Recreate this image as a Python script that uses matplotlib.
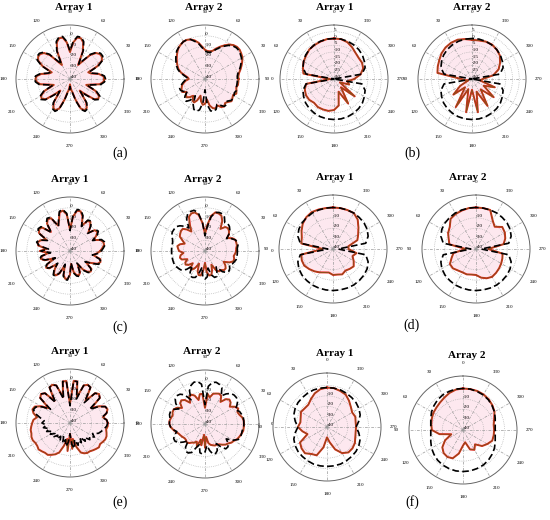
import numpy as np
import matplotlib
matplotlib.use('Agg')
import matplotlib.pyplot as plt

plt.rcParams['font.family'] = ['Liberation Serif', 'DejaVu Serif']

# sample angles (deg)
deg5 = np.arange(0, 360, 5)
deg10 = np.arange(0, 360, 10)

# (a) phi-plane, gain in dB
a1_meas = [-8, -9, -13, -20, -22, -12, -6, -4, -4, -6, -11, -20, -25, -12, -4, -1, -1, -6, -15, -6,
           -1, -1, -4, -12, -25, -20, -11, -6, -4, -4, -6, -12, -22, -20, -13, -9,
           -8, -9, -12, -20, -24, -14, -9, -8, -11, -20, -26, -14, -9, -8, -11, -20, -28, -30, -35, -30,
           -28, -20, -11, -8, -9, -14, -26, -20, -11, -8, -9, -14, -24, -20, -12, -9]
a1_sim = [-7, -8, -12, -19, -21, -11, -5, -3, -3, -5, -10, -19, -24, -11, -3, 0, 0, -5, -14, -5,
          0, 0, -3, -11, -24, -19, -10, -5, -3, -3, -5, -11, -21, -19, -12, -8,
          -7, -8, -11, -19, -23, -13, -8, -7, -10, -19, -25, -13, -8, -7, -10, -19, -27, -29, -33, -29,
          -27, -19, -10, -7, -8, -13, -25, -19, -10, -7, -8, -13, -23, -19, -11, -8]
a2_meas = [-9, -9, -8, -6, -4, -2, 0, 1, 2, 2, 1, -1, -4, -7, -10, -13, -14, -14, -13, -10,
           -6, -3, -1, 0, 0, -1, -2, -4, -6, -8, -10, -12, -14, -17, -21, -24,
           -25, -22, -20, -18, -17, -16, -16, -19, -17, -16, -18, -21, -17, -16, -19, -24, -19, -16, -17, -21,
           -15, -12, -11, -13, -10, -9, -11, -10, -8, -9, -10, -8, -9, -10, -9, -9]
a2_sim = [-10, -10, -9, -7, -5, -3, -1, 0, 1, 1, 0, -2, -5, -8, -11, -14, -15, -15, -14, -11,
          -7, -4, -1, 0, 0, -1, -2, -3, -5, -7, -9, -11, -13, -16, -20, -23,
          -24, -21, -19, -17, -15, -15, -17, -20, -16, -13, -13, -16, -22, -14, -10, -9, -11, -18, -30, -16,
          -10, -9, -10, -14, -12, -9, -9, -11, -9, -8, -9, -10, -9, -10, -10, -10]

# (b) theta-plane, gain in dB
b1_meas = [0, 0, -0.5, -1, -1.5, -3, -4, -5.5, -7, -27, -9, -7, -6, -6, -7, -6, -6, -6,
           -7, -10, -20, -9, -22, -10, -25, -18, -20, -15, -10, -7, -6, -6, -5, -3, -1, 0]
b1_sim = [0, 0, -0.3, -0.8, -1.5, -2.5, -4, -5.5, -9, -30, -9, -5.5, -4, -2.5, -1.5, -0.8, -0.3, 0,
          0, 0, -0.3, -0.8, -1.5, -2.5, -4, -5.5, -9, -30, -9, -5.5, -4, -2.5, -1.5, -0.8, -0.3, 0]
b2_meas = [-1, 0, 1, 1, 0.5, -0.5, -2, -3, -4, -22, -25, -27, -20, -12, -22, -6, -22, -5,
           -22, -5, -20, -7, -20, -9, -20, -12, -24, -22, -14, -9, -6, -3, -1.5, -0.5, -0.5, -1]
b2_sim = [0, 0, -0.3, -0.8, -1.5, -2.5, -4, -5.5, -9, -30, -9, -5.5, -4, -2.5, -1.5, -0.8, -0.3, 0,
          0, 0, -0.3, -0.8, -1.5, -2.5, -4, -5.5, -9, -30, -9, -5.5, -4, -2.5, -1.5, -0.8, -0.3, 0]

# (c)
c1_meas = [-12, -10, -8, -8, -10, -16, -12, -9, -10, -16, -11, -7, -8, -14, -6, -2, -2, -8, -20, -6,
           -2, -3, -10, -14, -5, -4, -7, -15, -6, -5, -7, -16, -11, -9, -10, -18,
           -12, -20, -14, -12, -15, -24, -16, -13, -15, -23, -18, -14, -14, -17, -26, -17, -14, -14, -18, -28,
           -20, -17, -16, -18, -26, -19, -15, -13, -14, -22, -18, -12, -10, -11, -18, -15]
c1_sim = [-11, -9, -7, -7, -9, -17, -11, -8, -9, -17, -10, -6, -7, -15, -5, -1, -1, -7, -21, -5,
          -1, -2, -9, -15, -4, -3, -6, -16, -5, -4, -6, -17, -10, -8, -11, -20,
          -13, -22, -13, -11, -16, -25, -15, -12, -16, -24, -17, -13, -13, -18, -27, -16, -13, -13, -19, -29,
          -19, -16, -15, -19, -27, -18, -14, -12, -15, -23, -17, -11, -9, -12, -19, -14]
c2_meas = [-11, -11, -10, -10, -10, -12, -16, -13, -11, -10, -11, -15, -8, -4, -3, -3, -7, -16, -24, -14,
           -6, -3, -3, -5, -12, -18, -14, -11, -11, -12, -13, -17, -20, -16, -14, -15,
           -16, -20, -17, -16, -17, -22, -19, -18, -20, -24, -19, -19, -22, -27, -20, -17, -17, -22, -29, -20,
           -17, -17, -21, -26, -19, -17, -17, -15, -15, -17, -20, -15, -12, -12, -13, -12]
c2_sim = [-10, -10, -9, -9, -10, -13, -17, -13, -10, -8, -7, -8, -4, -2, -2, -3, -8, -18, -26, -14,
          -4, -1, -1, -2, -6, -14, -10, -7, -5, -5, -5, -6, -8, -9, -9, -9,
          -9, -9, -9, -9, -9, -9, -10, -11, -12, -16, -22, -16, -13, -13, -14, -19, -25, -16, -14, -16,
          -24, -17, -14, -14, -18, -22, -15, -12, -11, -12, -14, -12, -11, -10, -10, -10]

# (d)
d1_meas = [0, 0, 0.5, 1, 0, -2, -5, -8, -9, -30, -9, -8, -8, -10, -12, -14, -16, -17,
           -15, -15, -14, -16, -15, -14, -17, -20, -17, -25, -25, -15, -12, -8, -3, 0, 0, 0]
d1_sim = [0, 0, 0, 0, -0.5, -1, -2, -4, -8, -35, -8, -4, -2, -1, -0.5, 0, 0, 0,
          0, 0, 0, 0, -0.5, -1, -2, -4, -8, -35, -8, -4, -2, -1, -0.5, 0, 0, 0]
d2_meas = [0, 0, -0.5, -1, -2, -7, -9, -12, -14, -30, -18, -15, -11, -11, -13, -14, -14, -15,
           -15, -12, -10, -9, -10, -11, -12, -13, -14, -28, -13, -10, -8, -7, -12, -8, 0, 0]
d2_sim = [0, 0, 0, 0, -0.5, -1, -2, -4, -8, -35, -8, -4, -2, -1, -0.5, 0, 0, 0,
          0, 0, 0, 0, -0.5, -1, -2, -4, -8, -35, -8, -4, -2, -1, -0.5, 0, 0, 0]

# (e)
e1_meas = [-5, -6, -9, -5, -3, -4, -9, -16, -4, -2, -4, -15, -2, -1, -3, -15, -1, -1, -22, -1,
           -1, -15, -3, -1, -2, -15, -4, -2, -4, -16, -9, -4, -3, -5, -9, -6,
           -5, -4, -3, -3, -2, -2, -3, -3, -2, -3, -4, -4, -6, -8, -11, -18, -25, -14, -30, -16,
           -25, -17, -11, -9, -8, -8, -7, -6, -5, -6, -5, -4, -4, -5, -6, -5]
e1_sim = [-5, -6, -10, -5, -3, -4, -10, -18, -4, -2, -4, -17, -2, -1, -3, -17, -1, -1, -24, -1,
          -1, -17, -3, -1, -2, -17, -4, -2, -4, -18, -10, -5, -4, -7, -12, -16,
          -14, -18, -15, -20, -17, -22, -19, -23, -20, -24, -21, -25, -22, -26, -20, -24, -18, -22, -30, -20,
          -16, -24, -18, -22, -19, -24, -18, -21, -16, -18, -14, -17, -12, -10, -8, -6]
e2_meas = [-4, -4, -5, -7, -8, -6, -8, -12, -9, -8, -10, -15, -10, -9, -10, -11, -15, -12, -25, -12,
           -12, -17, -12, -10, -11, -16, -11, -9, -10, -14, -10, -8, -8, -9, -8, -7,
           -7, -8, -10, -12, -14, -15, -16, -17, -17, -16, -17, -19, -20, -22, -18, -25, -20, -30, -18, -28,
           -22, -20, -19, -18, -18, -17, -15, -13, -12, -10, -9, -7, -6, -5, -4, -4]
e2_sim = [-4, -4, -4, -5, -6, -9, -6, -3, -2, -2, -3, -6, -10, -3, -1, 0, -1, -5, -22, -3,
          0, 0, -2, -6, -14, -7, -4, -3, -4, -7, -12, -8, -6, -6, -7, -7,
          -7, -8, -10, -13, -10, -8, -8, -10, -14, -18, -12, -9, -9, -11, -17, -20, -13, -12, -14, -20,
          -15, -11, -11, -13, -19, -14, -10, -10, -12, -16, -10, -6, -5, -5, -5, -4]

# (f)
f1_meas = [-2, -3, -5.5, -9, -12, -12, -11, -13, -14, -12, -16, -20, -10, -8, -7, -10, -11, -20,
           -30, -25, -17, -11, -8, -8, -9, -11, -12, -12, -12, -11, -12, -10, -7, -4, -3, -2]
f1_sim = [-2, -2, -2, -2.5, -3, -3.5, -4.5, -6, -9, -12, -9, -6, -4.5, -3.5, -3, -2.5, -2, -2,
          -2, -2, -2, -2.5, -3, -3.5, -4.5, -6, -9, -12, -9, -6, -4.5, -3.5, -3, -2.5, -2, -2]
f2_meas = [0, -0.5, -2, -4, -5.5, -6.5, -7, -8, -9, -10, -17, -28, -20, -14, -11, -10, -11, -17,
           -25, -28, -20, -18, -22, -16, -13, -10, -10, -10, -10, -8, -5, -3, -1.5, -0.5, 0, 0]
f2_sim = [0, 0, -0.5, -1, -2, -3.5, -5, -7, -8.5, -9, -8.5, -7, -5, -3.5, -2, -1, -0.5, 0,
          0, 0, -0.5, -1, -2, -3.5, -5, -7, -8.5, -9, -8.5, -7, -5, -3.5, -2, -1, -0.5, 0]

W, H = 550, 520
fig = plt.figure(figsize=(W / 100, H / 100), dpi=100)


def pattern(cx, cy, deg, meas, sim, top_zero=False, rlim=(-40, 10),
            rticks=(-40, -30, -20, -10, 0), rlabels=None, rad=54):
    ax = fig.add_axes([(cx - rad) / W, 1 - (cy + rad) / H, 2 * rad / W, 2 * rad / H],
                      projection='polar')
    th = np.deg2rad(np.append(deg, deg[0]))
    m = np.append(meas, meas[0])
    s = np.append(sim, sim[0])
    ax.fill(th, m, color='#fde8ef', lw=0, zorder=1)
    ax.plot(th, m, color='#e3241b', lw=1.4, zorder=3)
    ax.plot(th, m, color='#80561a', lw=0.6, zorder=4)
    ax.plot(th, s, color='black', lw=1.2, ls=(0, (4, 2)), zorder=5)
    if top_zero:
        ax.set_theta_zero_location('N')
        ax.set_rlabel_position(0)
    else:
        ax.set_theta_zero_location('E')
        ax.set_rlabel_position(90)
    ax.set_theta_direction(1)
    ax.set_ylim(*rlim)
    ax.set_thetagrids(range(0, 360, 30), [str(a) for a in range(0, 360, 30)])
    if rlabels is None:
        rlabels = [str(t) for t in rticks]
    ax.set_rgrids(rticks, rlabels, fontsize=3.8)
    ax.tick_params(axis='x', labelsize=3.6, pad=0.3, length=2, width=0.7, direction='out')
    ax.xaxis.grid(True, color='#999999', lw=0.5, ls=(0, (4, 2, 1, 2)))
    ax.yaxis.grid(True, color='#aaaaaa', lw=0.5, ls=':')
    ax.spines['polar'].set_color('#666666')
    ax.spines['polar'].set_linewidth(0.7)
    return ax


# row 1
pattern(70, 79, deg5, a1_meas, a1_sim)
pattern(205, 79, deg5, a2_meas, a2_sim)
bt = (-30, -25, -20, -15, -10, -5, 0, 5)
pattern(334, 79, deg10, b1_meas, b1_sim, True, (-30, 10), bt)
pattern(472, 79, deg10, b2_meas, b2_sim, True, (-30, 10), bt)
# row 2
pattern(70, 251, deg5, c1_meas, c1_sim)
pattern(205, 251, deg5, c2_meas, c2_sim)
dt = (-40, -30, -20, -10, 0)
dl = ['-40', '-30', '-20', '-10', '']
pattern(333, 249, deg10, d1_meas, d1_sim, True, (-40, 12), dt, dl)
pattern(476, 249, deg10, d2_meas, d2_sim, True, (-40, 12), dt, dl)
# row 3
pattern(70, 423, deg5, e1_meas, e1_sim)
pattern(205, 424, deg5, e2_meas, e2_sim)
pattern(327, 427, deg10, f1_meas, f1_sim, True, (-40, 12), dt, dl)
pattern(463, 430, deg10, f2_meas, f2_sim, True, (-40, 12), dt, dl)

titles = [(74, 7, 'Array 1'), (204, 7, 'Array 2'), (335, 7, 'Array 1'), (472, 7, 'Array 2'),
          (70, 179, 'Array 1'), (203, 179, 'Array 2'), (335, 178, 'Array 1'), (468, 178, 'Array 2'),
          (70, 352, 'Array 1'), (202, 352, 'Array 2'), (335, 353, 'Array 1'), (467, 356, 'Array 2')]
for x, y, t in titles:
    fig.text(x / W, 1 - y / H, t, ha='center', va='center', fontsize=8, fontweight='bold')

panels = [(120, 153, '(a)'), (412, 153, '(b)'), (120, 327, '(c)'), (412, 325, '(d)'),
          (120, 502, '(e)'), (412, 502, '(f)')]
for x, y, t in panels:
    fig.text(x / W, 1 - y / H, t, ha='center', va='center', fontsize=10)

fig.savefig('out.png', dpi=100)
